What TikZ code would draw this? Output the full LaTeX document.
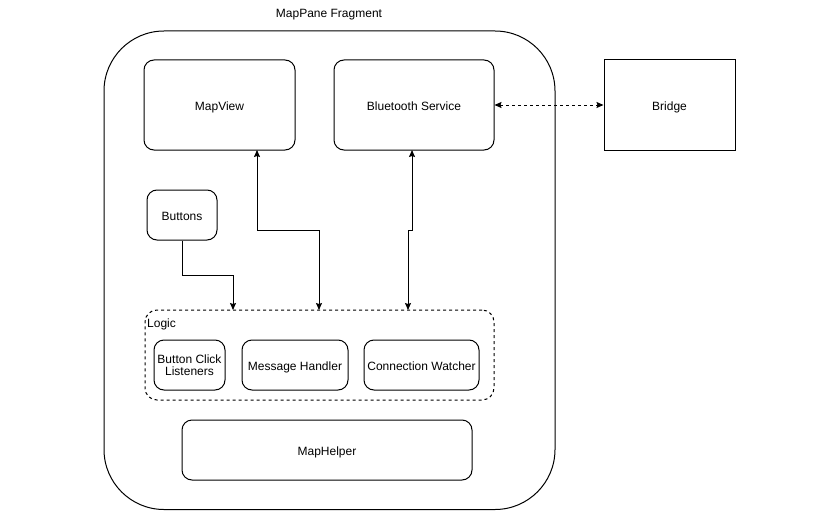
\documentclass[tikz,border=0pt]{standalone}
\usepackage{fontspec}
\setmainfont{Liberation Sans}
\usetikzlibrary{arrows.meta}
\begin{document}
\begin{tikzpicture}[x=1pt,y=-1pt,
  box/.style={draw,line width=1pt,rounded corners=10pt,align=center,inner sep=0pt},
  conn/.style={line width=1pt,-{Stealth[length=7pt,width=6pt,inset=1pt]}},
  both/.style={{Stealth[length=7pt,width=6pt,inset=1pt]}-{Stealth[length=7pt,width=6pt,inset=1pt]}},
  lbl/.style={font=\fontsize{12}{14}\selectfont},
  low/.style={text height=11pt,text depth=1pt},
]
\useasboundingbox[fill=white] (0,0) rectangle (840,511);
\draw[line width=1pt,rounded corners=60pt] (104,31) rectangle (555,509.5);
\node[lbl] (frag) at (329,15) {MapPane Fragment};
\node[box,lbl,low,minimum width=151pt,minimum height=90pt] (mapview) at (219.5,105) {MapView};
\node[box,lbl,low,minimum width=160pt,minimum height=90pt] (bt) at (414,105) {Bluetooth Service};
\node[draw,line width=1pt,lbl,low,minimum width=131pt,minimum height=90pt] (bridge) at (669.5,105) {Bridge};
\node[box,lbl,low,minimum width=70pt,minimum height=50pt] (buttons) at (182,215) {Buttons};
\node[box,dashed,rounded corners=12pt,minimum width=349pt,minimum height=90pt] (logic) at (319.5,355) {};
\node[lbl,anchor=north west,inner sep=0pt] (logiclbl) at (147,319) {Logic};
\node[box,lbl,minimum width=71pt,minimum height=50pt] (bcl) at (189.5,365) {Button Click\\[-2pt]Listeners};
\node[box,lbl,low,minimum width=106pt,minimum height=50pt] (mh) at (295,365) {Message Handler};
\node[box,lbl,low,minimum width=115pt,minimum height=50pt] (cw) at (421.5,365) {Connection Watcher};
\node[box,lbl,low,minimum width=290pt,minimum height=60pt] (helper) at (327,450) {MapHelper};
\draw[conn] (buttons.south) -- (182,275) -- (233,275) -- (233,310);
\draw[conn,both] (257,150) -- (257,230) -- (319,230) -- (319,310);
\draw[conn,both] (412,150) -- (412,230) -- (408,230) -- (408,310);
\draw[conn,dashed,both] (bt.east) -- (bridge.west);
\end{tikzpicture}
\end{document}
